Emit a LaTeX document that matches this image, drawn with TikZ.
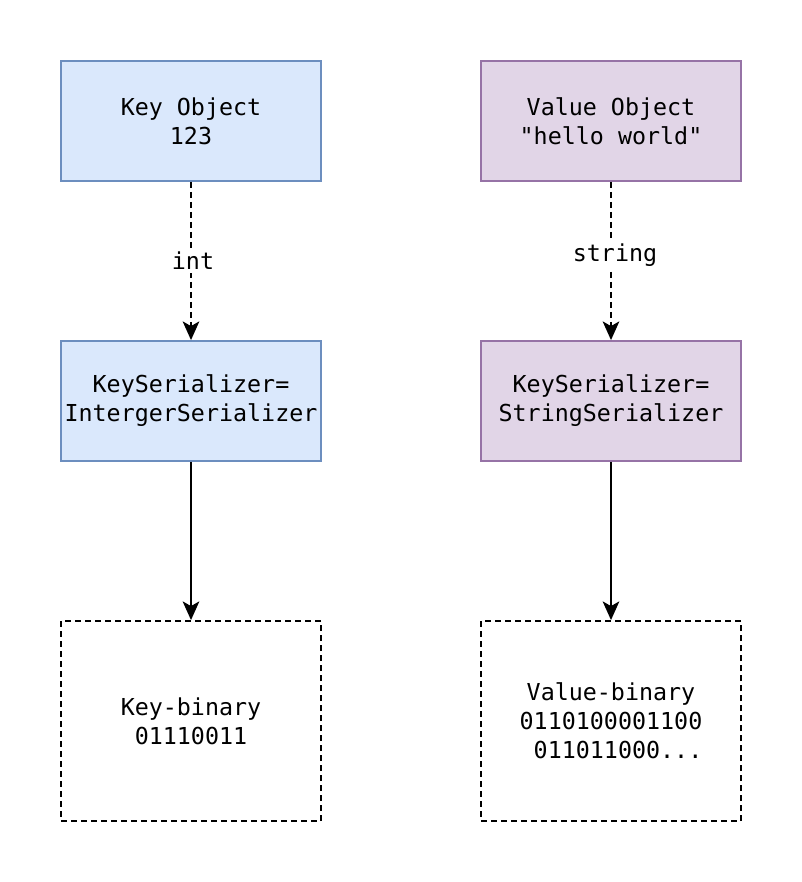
\documentclass[tikz,border=0pt]{standalone}
\usepackage{fontspec}
\setmonofont{DejaVu Sans Mono}
\usetikzlibrary{arrows.meta}
\definecolor{bluefill}{HTML}{DAE8FC}
\definecolor{bluedraw}{HTML}{6C8EBF}
\definecolor{purpfill}{HTML}{E1D5E7}
\definecolor{purpdraw}{HTML}{9673A6}
\tikzset{
  every node/.style={font=\ttfamily\fontsize{17.5}{21.75}\selectfont, align=center, inner sep=0pt},
  box/.style={rectangle, minimum width=195pt, minimum height=90pt, line width=1.4pt},
  bluebox/.style={box, fill=bluefill, draw=bluedraw},
  purpbox/.style={box, fill=purpfill, draw=purpdraw},
  binbox/.style={box, minimum height=150pt, draw=black, dash pattern=on 4.5pt off 3pt},
  conn/.style={line width=1.4pt, -{Stealth[length=14pt,width=12.5pt,inset=3.5pt]}},
  dconn/.style={conn, dash pattern=on 4.5pt off 3pt},
  lbl/.style={fill=white, inner sep=2pt}
}
\begin{document}
\begin{tikzpicture}[x=0.75pt,y=-0.75pt]
\useasboundingbox (0,0) rectangle (802,882);
\node[bluebox] (ko) at (191,121) {Key Object\\123};
\node[purpbox] (vo) at (611,121) {Value Object\\"hello world"};
\node[bluebox] (ks) at (191,401) {KeySerializer=\\IntergerSerializer};
\node[purpbox] (vs) at (611,401) {KeySerializer=\\StringSerializer};
\node[binbox] (kb) at (191,721) {Key-binary\\01110011};
\node[binbox] (vb) at (611,721) {Value-binary\\0110100001100\\\phantom{0}011011000...};
\draw[dconn] (ko) -- node[lbl, pos=0.5, xshift=1.5pt] {int} (ks);
\draw[dconn] (vo) -- node[lbl, pos=0.46, xshift=3pt] {string} (vs);
\draw[conn] (ks) -- (kb);
\draw[conn] (vs) -- (vb);
\end{tikzpicture}
\end{document}
